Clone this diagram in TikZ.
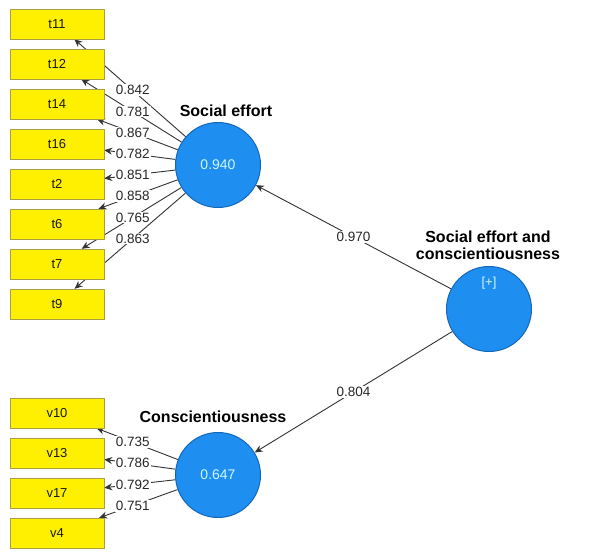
\documentclass[tikz,border=0pt]{standalone}
\usepackage{fontspec}
\setmainfont{Liberation Sans}
\usetikzlibrary{arrows.meta,backgrounds,calc}
\definecolor{boxfill}{HTML}{FFF000}
\definecolor{boxdraw}{HTML}{ABA040}
\definecolor{lvfill}{HTML}{1E8FF0}
\definecolor{lvdraw}{HTML}{1467B8}
\definecolor{lvtext}{HTML}{D2F6FF}
\definecolor{edgecol}{HTML}{333333}
\tikzset{
 ind/.style={draw=boxdraw, fill=boxfill, minimum width=94pt, minimum height=30pt, inner sep=0pt, font=\fontsize{13}{15}\selectfont, text=black!90},
 lv/.style={circle, draw=lvdraw, line width=1pt, fill=lvfill, minimum size=85pt, inner sep=0pt, font=\fontsize{14}{16}\selectfont, text=lvtext},
 lvname/.style={font=\fontsize{16}{17}\selectfont\bfseries, align=center, inner sep=0pt},
 ld/.style={fill=white, inner sep=1pt, font=\fontsize{13.5}{15}\selectfont, text=black!85},
 arr/.style={draw=edgecol, line width=0.9pt, -{Stealth[length=8pt,width=7pt]}},
}
\begin{document}
\begin{tikzpicture}[x=1pt,y=-1pt]
\useasboundingbox (0,0) rectangle (595,557);
% latent variables
\node[lv] (se) at (218,165) {0.940};
\node[lv] (co) at (218,475) {0.647};
\node[lv] (hc) at (489,309) {};
\node[font=\fontsize{13}{15}\selectfont, text=lvtext, inner sep=0pt] (plus) at (489,283) {[+]};
\node[lvname] (sename) at (226,111) {Social effort};
\node[lvname] (coname) at (213,417) {Conscientiousness};
\node[lvname] (hcname) at (488,245) {Social effort and\\conscientiousness};
% indicators
\foreach \n/\y in {t11/24,t12/64,t14/104,t16/144,t2/184,t6/224,t7/264,t9/304,v10/413,v13/453,v17/493,v4/533}
  \node[ind] (\n) at (57,\y) {\n};
% connectors
\begin{scope}[on background layer]
\fill[white] (0,0) rectangle (595,557);
\foreach \n/\v in {t11/0.842,t12/0.781,t14/0.867,t16/0.782,t2/0.851,t6/0.858,t7/0.765,t9/0.863}{
  \draw[arr] (se) -- (\n);
  \node[ld] (l\n) at ($(se)!0.53!(\n)$) {\v};
}
\foreach \n/\v in {v10/0.735,v13/0.786,v17/0.792,v4/0.751}{
  \draw[arr] (co) -- (\n);
  \node[ld] (l\n) at ($(co)!0.53!(\n)$) {\v};
}
\draw[arr] (hc) -- (se) node[ld, pos=0.5] (p1) {0.970};
\draw[arr] (hc) -- (co) node[ld, pos=0.5] (p2) {0.804};
\end{scope}
\end{tikzpicture}
\end{document}
